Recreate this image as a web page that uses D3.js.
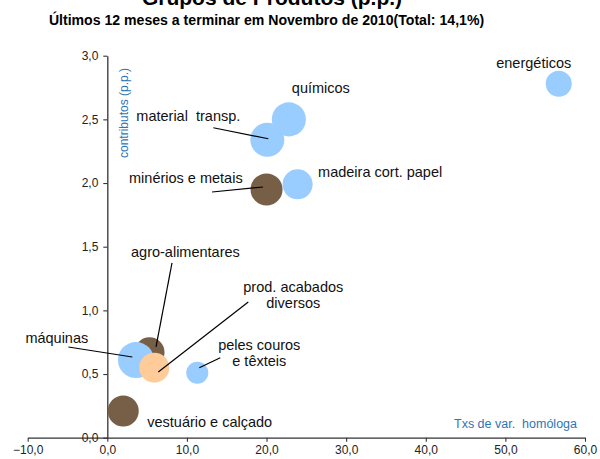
<!DOCTYPE html>
<html>
<head>
<meta charset="utf-8">
<script src="https://cdn.jsdelivr.net/npm/d3@7"></script>
<style>
  html, body { margin: 0; padding: 0; background: #fff; }
  svg { display: block; font-family: "Liberation Sans", Arial, sans-serif; }
  svg text { white-space: pre; }
</style>
</head>
<body>
<svg id="chart" width="600" height="459"></svg>
<script>
// Product groups: year-on-year rate (x), contribution in p.p. (y), weight (bubble size)
const groups = ["energéticos", "químicos", "material  transp.", "madeira cort. papel",
  "minérios e metais", "agro-alimentares", "máquinas", "prod. acabados diversos",
  "peles couros e têxteis", "vestuário e calçado"];
const rates = [56.7, 22.8, 20.1, 23.9, 20.0, 5.3, 3.6, 5.9, 11.3, 2.0];
const contribs = [2.78, 2.50, 2.34, 1.99, 1.95, 0.67, 0.61, 0.55, 0.51, 0.21];
const weights = [10.6, 18.1, 18.1, 14.1, 16.0, 14.1, 20.3, 14.1, 7.6, 15.0];
const kinds = ["blue", "blue", "blue", "blue", "brown", "brown", "blue", "orange", "blue", "brown"];

const xTicks = [-10, 0, 10, 20, 30, 40, 50, 60];
const yTicks = [0, 0.5, 1.0, 1.5, 2.0, 2.5, 3.0];

const title = "Grupos de Produtos (p.p.)";
const subtitle = "Últimos 12 meses a terminar em Novembro de 2010(Total: 14,1%)";
const xTitle = "Txs de var.  homóloga";
const yTitle = "contributos (p.p.)";

const palette = { blue: "#99CCFF", brown: "#775F47", orange: "#FFCC99" };

// Label placement relative to each bubble centre (text lines, leader line)
const labelLayout = [
  { lines: ["energéticos"], anchor: "middle", dx: -25, dy: -16 },
  { lines: ["químicos"], anchor: "start", dx: 3, dy: -26 },
  { lines: ["material  transp."], anchor: "start", dx: -131, dy: -19, lead: [-54, -12, 1, -1] },
  { lines: ["madeira cort. papel"], anchor: "start", dx: 20.5, dy: -7 },
  { lines: ["minérios e metais"], anchor: "start", dx: -137.5, dy: -6, lead: [-54.5, 2.6, -3.5, -2.4] },
  { lines: ["agro-alimentares"], anchor: "start", dx: -18.5, dy: -95, lead: [22.5, -89.4, 6.5, -5.4] },
  { lines: ["máquinas"], anchor: "start", dx: -110.6, dy: -17, lead: [-67.6, -13, -3.6, -3] },
  { lines: ["prod. acabados", "diversos"], anchor: "middle", dx: 139, dy: -75.5, lead: [94, -65.7, 4, 4.3] },
  { lines: ["peles couros", "e têxteis"], anchor: "middle", dx: 62, dy: -22.5, lead: [23, -15, 2, -5] },
  { lines: ["vestuário e calçado"], anchor: "start", dx: 24, dy: 16 }
];

const svg = d3.select("#chart");
const fmt = v => d3.format(".1f")(v).replace(".", ",");

const x = d3.scaleLinear().domain([-10, 60]).range([27.7, 585]);
const y = d3.scaleLinear().domain([0, 3]).range([437.7, 55.7]);
const r = d3.scaleSqrt().domain([0, 25]).range([0, 20]);

// Titles
svg.append("text").attr("x", 272).attr("y", 5).attr("text-anchor", "middle")
  .attr("font-size", 21).attr("font-weight", "bold").attr("fill", "#000").text(title);
svg.append("text").attr("x", 266.5).attr("y", 25).attr("text-anchor", "middle")
  .attr("font-size", 14.1).attr("font-weight", "bold").attr("fill", "#000").text(subtitle);

// Axes (crossing at the origin)
const axisColor = "#333";
const xAxis = svg.append("g").attr("transform", `translate(0,${y(0)})`)
  .call(d3.axisBottom(x).tickValues(xTicks).tickFormat(fmt).tickSize(4).tickSizeOuter(0));
const yAxis = svg.append("g").attr("transform", `translate(${x(0)},0)`)
  .call(d3.axisLeft(y).tickValues(yTicks).tickFormat(fmt).tickSize(4).tickSizeOuter(0));
[xAxis, yAxis].forEach(g => {
  g.select(".domain").attr("stroke", axisColor).attr("stroke-width", 1.3);
  g.selectAll(".tick line").attr("stroke", axisColor).attr("stroke-width", 1.1);
  g.selectAll(".tick text").attr("fill", "#222").attr("font-size", 12)
    .attr("font-family", "Liberation Sans, Arial, sans-serif");
});
xAxis.selectAll(".tick text").attr("dy", "0.71em").attr("y", 8);
yAxis.selectAll(".tick text").attr("x", -9);

// Axis titles
svg.append("text").attr("x", 577).attr("y", 428).attr("text-anchor", "end")
  .attr("font-size", 12.5).attr("fill", "#2E75B6").text(xTitle);
svg.append("text").attr("transform", `translate(128,158) rotate(-90)`)
  .attr("text-anchor", "start").attr("font-size", 12).attr("fill", "#2E75B6").text(yTitle);

// Bubbles
const data = groups.map((g, i) => ({ g, x: rates[i], y: contribs[i], w: weights[i], k: kinds[i], lab: labelLayout[i] }));
svg.append("g").selectAll("circle").data(data).join("circle")
  .attr("cx", d => x(d.x)).attr("cy", d => y(d.y)).attr("r", d => r(d.w))
  .attr("fill", d => palette[d.k]);

// Leader lines
svg.append("g").selectAll("line").data(data.filter(d => d.lab.lead)).join("line")
  .attr("x1", d => x(d.x) + d.lab.lead[0]).attr("y1", d => y(d.y) + d.lab.lead[1])
  .attr("x2", d => x(d.x) + d.lab.lead[2]).attr("y2", d => y(d.y) + d.lab.lead[3])
  .attr("stroke", "#000").attr("stroke-width", 1.2);

// Labels
const labels = svg.append("g").selectAll("text").data(data).join("text")
  .attr("text-anchor", d => d.lab.anchor).attr("font-size", 14.5).attr("fill", "#111");
labels.selectAll("tspan").data(d => d.lab.lines.map((t, j) => ({ t, j, d }))).join("tspan")
  .attr("x", o => x(o.d.x) + o.d.lab.dx)
  .attr("y", o => y(o.d.y) + o.d.lab.dy + o.j * 16)
  .text(o => o.t);
</script>
</body>
</html>
